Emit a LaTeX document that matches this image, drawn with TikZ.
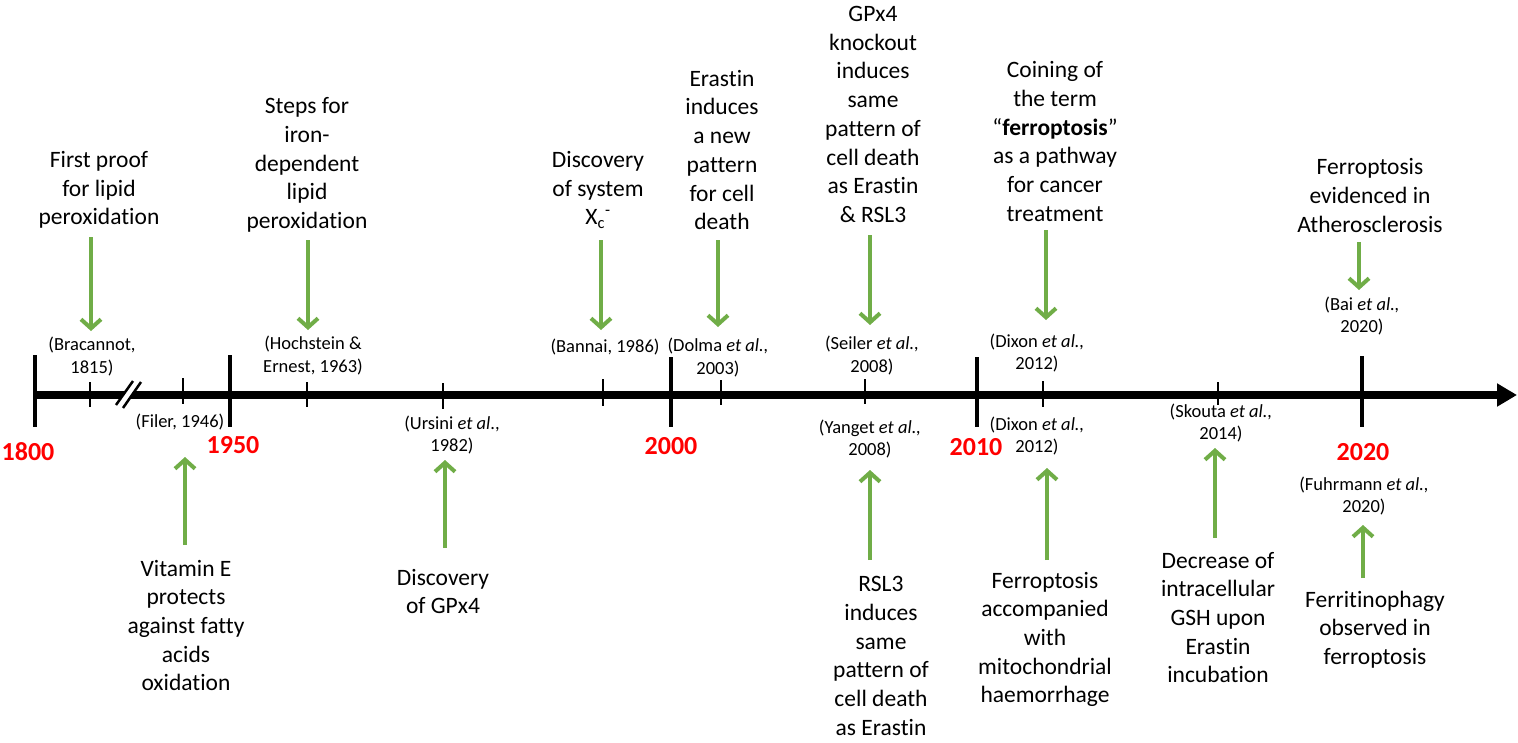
\documentclass[tikz,border=0pt]{standalone}
\usepackage{fontspec}
\setmainfont{Carlito}[Ligatures=NoCommon]
\usetikzlibrary{arrows.meta}
\definecolor{grn}{RGB}{112,173,71}
\begin{document}
\begin{tikzpicture}[x=1pt,y=-1pt,
 main/.style={align=center, inner sep=0, font=\fontsize{23.5}{28.7}\selectfont},
 cite/.style={align=center, inner sep=0, font=\fontsize{18.5}{22.6}\selectfont},
 yr/.style={inner sep=0, text=red, font=\fontsize{26}{30}\selectfont\bfseries},
 garrow/.style={draw=grn, line width=4pt, -{Straight Barb[length=9pt, width=20pt]}},
 axisline/.style={line width=8pt, -{Triangle[length=20pt, width=22pt]}},
 major/.style={line width=3.5pt},
 minor/.style={line width=1.6pt},
]
\useasboundingbox (0,0) rectangle (1518,742);

% axis
\coordinate (ax0) at (33,395);
\coordinate (ax1) at (1517,395);
\draw[axisline] (ax0) -- (ax1);

% axis break
\draw[white, line width=6pt] (117,409) -- (139,379);
\draw[line width=2.5pt] (116,405) -- (133,381);
\draw[line width=2.5pt] (123,408) -- (141,382);

% major ticks
\draw[major] (35,355) -- (35,427);
\draw[major] (230,355) -- (230,427);
\draw[major] (671,357) -- (671,427);
\draw[major] (977,357) -- (977,427);
\draw[major] (1362,356) -- (1362,427);

% minor ticks
\draw[minor] (90,382) -- (90,407);
\draw[minor] (183,378) -- (183,404);
\draw[minor] (307,382) -- (307,407);
\draw[minor] (443,383) -- (443,409);
\draw[minor] (603,379) -- (603,406);
\draw[minor] (721,380) -- (721,405);
\draw[minor] (865,379) -- (865,404);
\draw[minor] (1043,381) -- (1043,407);
\draw[minor] (1218,382) -- (1218,405);

% years
\node[yr] (y1800) at (28,452) {1800};
\node[yr] (y1950) at (233,445) {1950};
\node[yr] (y2000) at (671,446) {2000};
\node[yr] (y2010) at (976,447) {2010};
\node[yr] (y2020) at (1363,452) {2020};

% citations
\node[cite] (c1) at (92,356.5) {(Bracannot,\\1815)};
\node[cite] (c2) at (313,355.5) {(Hochstein \&\\Ernest, 1963)};
\node[cite] (c3) at (180,422) {(Filer, 1946)};
\node[cite] (c4) at (452,435) {(Ursini \textit{et al}.,\\1982)};
\node[cite] (c5) at (605,347) {(Bannai, 1986)};
\node[cite] (c6) at (718,357.5) {(Dolma \textit{et al.,}\\2003)};
\node[cite] (c7) at (872,355.5) {(Seiler \textit{et al.,}\\2008)};
\node[cite] (c8) at (870,439) {(Yanget \textit{et al.,}\\2008)};
\node[cite] (c9) at (1037,353) {(Dixon \textit{et al.,}\\2012)};
\node[cite] (c10) at (1037,436) {(Dixon \textit{et al.,}\\2012)};
\node[cite] (c11) at (1221,423) {(Skouta \textit{et al.,}\\2014)};
\node[cite] (c12) at (1362,316) {(Bai \textit{et al.,}\\2020)};
\node[cite] (c13) at (1364,496) {(Fuhrmann \textit{et al.,}\\2020)};

% top events
\node[main] (n1) at (99,190) {First proof\\for lipid\\peroxidation};
\node[main] (n2) at (307,165) {Steps for\\iron-\\dependent\\lipid\\peroxidation};
\node[main] (n3) at (598,190) {Discovery\\of system\\X\textsubscript{c}\textsuperscript{-}};
\node[main] (n4) at (722,150) {Erastin\\induces\\a new\\pattern\\for cell\\death};
\node[main] (n5) at (873,114.5) {GPx4\\knockout\\induces\\same\\pattern of\\cell death\\as Erastin\\\& RSL3};
\node[main] (n6) at (1055,141.5) {Coining of\\the term\\“\textbf{ferroptosis}”\\as a pathway\\for cancer\\treatment};
\node[main] (n7) at (1370,195.5) {Ferroptosis\\evidenced in\\Atherosclerosis};

% bottom events
\node[main] (b1) at (186,625.5) {Vitamin E\\protects\\against fatty\\acids\\oxidation};
\node[main] (b2) at (443,591.5) {Discovery\\of GPx4};
\node[main] (b3) at (881,656) {RSL3\\induces\\same\\pattern of\\cell death\\as Erastin};
\node[main] (b4) at (1045,639.5) {Ferroptosis\\accompanied\\with\\mitochondrial\\haemorrhage};
\node[main] (b5) at (1218,617.5) {Decrease of\\intracellular\\GSH upon\\Erastin\\incubation};
\node[main] (b6) at (1375,629.5) {Ferritinophagy\\observed in\\ferroptosis};

% arrow end points
\coordinate (a1s) at (91,237);   \coordinate (a1e) at (91,331);
\coordinate (a2s) at (308,240);  \coordinate (a2e) at (308,330);
\coordinate (a3s) at (601,240);  \coordinate (a3e) at (601,330);
\coordinate (a4s) at (718,240);  \coordinate (a4e) at (718,327);
\coordinate (a5s) at (870,235);  \coordinate (a5e) at (870,325);
\coordinate (a6s) at (1046,230); \coordinate (a6e) at (1046,320);
\coordinate (a7s) at (1359,242); \coordinate (a7e) at (1359,290);
\coordinate (u1s) at (185,545);  \coordinate (u1e) at (185,457);
\coordinate (u2s) at (445,548);  \coordinate (u2e) at (445,460);
\coordinate (u3s) at (870,560);  \coordinate (u3e) at (870,470);
\coordinate (u4s) at (1047,560); \coordinate (u4e) at (1047,468);
\coordinate (u5s) at (1215,538); \coordinate (u5e) at (1215,448);
\coordinate (u6s) at (1363,578); \coordinate (u6e) at (1363,525);

\foreach \a in {a1,a2,a3,a4,a5,a6,a7,u1,u2,u3,u4,u5,u6}
  \draw[garrow] (\a s) -- (\a e);
\end{tikzpicture}
\end{document}
